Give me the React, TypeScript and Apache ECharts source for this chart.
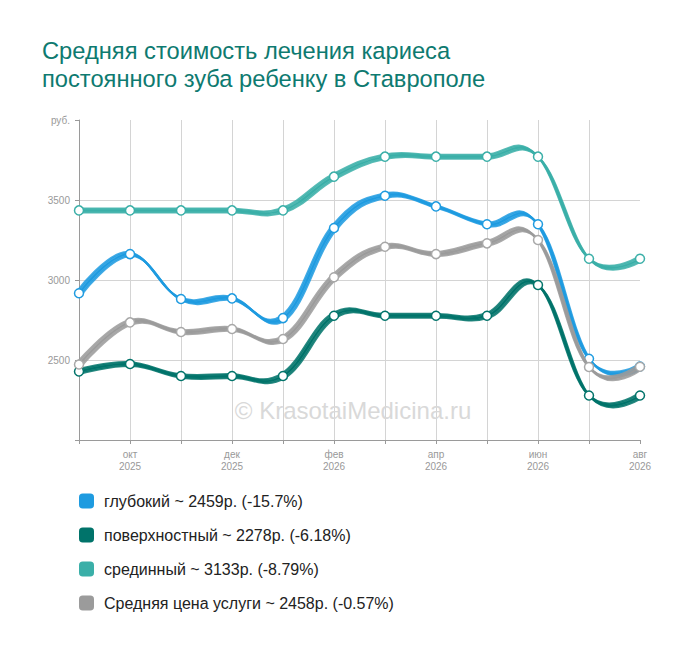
import React, { useEffect, useRef } from 'react';
import * as echarts from 'echarts';

const months = [
  'сен\n2025', 'окт\n2025', 'ноя\n2025', 'дек\n2025', 'янв\n2026', 'фев\n2026',
  'мар\n2026', 'апр\n2026', 'май\n2026', 'июн\n2026', 'июл\n2026', 'авг\n2026',
];
const seriesNames = ['глубокий', 'поверхностный', 'срединный', 'Средняя цена услуги'];
const legendLabels = [
  'глубокий ~ 2459р. (-15.7%)',
  'поверхностный ~ 2278р. (-6.18%)',
  'срединный ~ 3133р. (-8.79%)',
  'Средняя цена услуги ~ 2458р. (-0.57%)',
];
const deep = [2917, 3162, 2881, 2885, 2762, 3325, 3527, 3460, 3348, 3348, 2508, 2459];
const surface = [2428, 2475, 2400, 2400, 2400, 2777, 2777, 2777, 2777, 2969, 2278, 2278];
const middle = [3435, 3435, 3435, 3435, 3435, 3646, 3771, 3771, 3771, 3771, 3133, 3133];
const average = [2472, 2735, 2675, 2694, 2631, 3017, 3208, 3162, 3229, 3250, 2456, 2458];
const yTicks = { min: 2000, max: 4000, interval: 500 };
const titleText = 'Средняя стоимость лечения кариеса\nпостоянного зуба ребенку в Ставрополе';
const watermark = '© KrasotaiMedicina.ru';

const colors = ['#1e9be0', '#00736a', '#3aafa8', '#9b9b9b'];
const markerBorders = ['#1e9be0', '#00736a', '#3aafa8', '#a8a8a8'];
const FONT = 'Arial, "Liberation Sans", sans-serif';
const RIBBON = [-2, -1, 1, 2, 0];

type P = { x: number; y: number };

// spline control points (left/right) for point i, in pixel space
function ctrl(pts: P[], i: number) {
  const p = pts[i];
  if (i === 0 || i === pts.length - 1) return { lx: p.x, ly: p.y, rx: p.x, ry: p.y };
  const prev = pts[i - 1];
  const next = pts[i + 1];
  const sm = 1.5;
  const den = sm + 1;
  const lx = (sm * p.x + prev.x) / den;
  let ly = (sm * p.y + prev.y) / den;
  const rx = (sm * p.x + next.x) / den;
  let ry = (sm * p.y + next.y) / den;
  let corr = 0;
  if (rx !== lx) corr = ((ry - ly) * (rx - p.x)) / (rx - lx) + p.y - ry;
  ly += corr;
  ry += corr;
  return { lx, ly, rx, ry };
}

function makeSeries(data: number[], s: number) {
  return {
    type: 'custom',
    name: seriesNames[s],
    coordinateSystem: 'cartesian2d',
    data: data.map((v, k) => [k, v]),
    encode: { x: 0, y: 1 },
    z: 2 + s,
    silent: true,
    itemStyle: { color: colors[s] },
    renderItem: (params: any, api: any) => {
      const i = params.dataIndex;
      const pts: P[] = data.map((v, k) => {
        const c = api.coord([k, v]);
        return { x: c[0], y: c[1] };
      });
      const children: any[] = [];
      if (i < pts.length - 1) {
        const a = ctrl(pts, i);
        const b = ctrl(pts, i + 1);
        const p0 = pts[i];
        const p1 = pts[i + 1];
        RIBBON.forEach((d) => {
          children.push({
            type: 'bezierCurve',
            z2: d === 0 ? 2 : 1,
            shape: {
              x1: p0.x + d, y1: p0.y + d,
              cpx1: a.rx + d, cpy1: a.ry + d,
              cpx2: b.lx + d, cpy2: b.ly + d,
              x2: p1.x + d, y2: p1.y + d,
            },
            style: { stroke: colors[s], lineWidth: 2, fill: null, opacity: d === 0 ? 1 : 0.85 },
          });
        });
      }
      const p = pts[i];
      children.push({
        type: 'circle',
        z2: 5,
        shape: { cx: p.x, cy: p.y, r: 4.5 },
        style: { fill: '#fff', stroke: markerBorders[s], lineWidth: 1.5 },
      });
      return { type: 'group', children };
    },
  };
}

function buildOption() {
  const allData = [deep, surface, middle, average];
  const gridColor = '#d4d4d4';
  const axisColor = '#9a9a9a';
  return {
    animation: false,
    backgroundColor: '#fff',
    title: {
      text: titleText,
      left: 42,
      top: 37,
      padding: 0,
      textStyle: { color: '#0e7a70', fontSize: 23.7, fontWeight: 'normal', lineHeight: 28, fontFamily: FONT },
    },
    legend: {
      orient: 'vertical',
      left: 79,
      top: 493,
      padding: 0,
      itemGap: 18,
      itemWidth: 15,
      itemHeight: 15,
      icon: 'roundRect',
      selectedMode: false,
      data: seriesNames.map((n, i) => ({ name: n, itemStyle: { color: colors[i], borderWidth: 0 } })),
      formatter: (name: string) => legendLabels[seriesNames.indexOf(name)],
      textStyle: { color: '#222', fontSize: 16, lineHeight: 15, fontFamily: FONT, padding: [0, 0, 0, 5] },
    },
    graphic: [
      {
        type: 'text',
        x: 353,
        y: 410,
        z: 1,
        silent: true,
        style: {
          text: watermark,
          fill: '#d9d9d9',
          font: `24px ${FONT}`,
          textAlign: 'center',
          textVerticalAlign: 'middle',
        },
      },
    ],
    grid: { left: 79, right: 60, top: 120, bottom: 211 },
    xAxis: {
      type: 'category',
      data: months,
      boundaryGap: false,
      axisLine: { show: true, lineStyle: { color: axisColor, width: 1 } },
      axisTick: { show: true, length: 4, interval: 0, lineStyle: { color: axisColor } },
      axisLabel: {
        interval: (idx: number) => idx % 2 === 1,
        color: '#999',
        fontSize: 10,
        lineHeight: 12,
        margin: 8,
        fontFamily: FONT,
      },
      splitLine: {
        show: true,
        interval: 0,
        lineStyle: {
          color: months.map((_, k) => (k === months.length - 1 ? 'rgba(0,0,0,0)' : gridColor)),
          width: 1,
        },
      },
    },
    yAxis: {
      type: 'value',
      ...yTicks,
      axisLine: { show: true, lineStyle: { color: axisColor, width: 1 } },
      axisTick: { show: true, length: 4, lineStyle: { color: axisColor } },
      axisLabel: {
        color: '#999',
        fontSize: 10,
        margin: 9,
        fontFamily: FONT,
        formatter: (v: number) => (v === yTicks.max ? 'руб.' : v === yTicks.min ? '' : String(v)),
      },
      splitLine: {
        show: true,
        lineStyle: {
          color: ['rgba(0,0,0,0)', gridColor, gridColor, gridColor, 'rgba(0,0,0,0)'],
          width: 1,
        },
      },
    },
    series: allData.map((d, s) => makeSeries(d, s)),
  };
}

export default function App() {
  const ref = useRef<HTMLDivElement>(null);
  useEffect(() => {
    const chart = echarts.init(ref.current!, null, { renderer: 'svg' });
    chart.setOption(buildOption() as any);
    return () => chart.dispose();
  }, []);
  return (
    <div
      ref={ref}
      style={{ position: 'fixed', left: 0, top: 0, width: 700, height: 651, background: '#fff' }}
    />
  );
}
